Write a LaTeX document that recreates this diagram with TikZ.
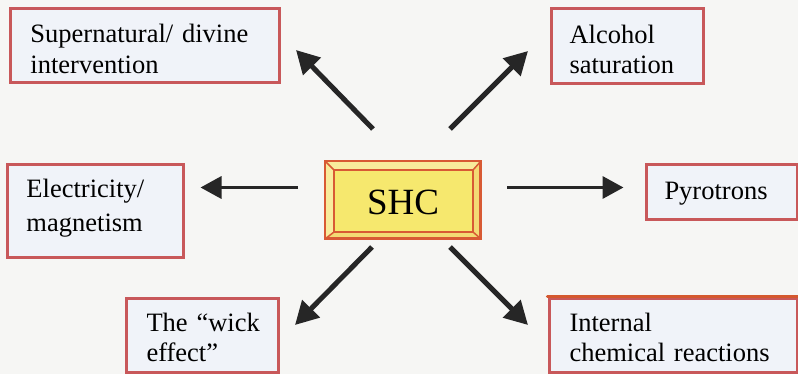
\documentclass[tikz,border=0pt]{standalone}
\usepackage{fontspec}
\setmainfont{Liberation Serif}
\usetikzlibrary{arrows.meta}
\definecolor{bgcol}{HTML}{F6F6F4}
\definecolor{boxred}{HTML}{C8585A}
\definecolor{boxfill}{HTML}{F0F3F9}
\definecolor{intop}{HTML}{D4582E}
\definecolor{shcline}{HTML}{D85A34}
\definecolor{shcface}{HTML}{F6E86E}
\definecolor{shcbevel}{HTML}{F3DA74}
\definecolor{shclight}{HTML}{F8EC9C}
\definecolor{arrcol}{HTML}{262626}
\begin{document}
\begin{tikzpicture}[x=1pt,y=-1pt,
  txtbox/.style={draw=boxred, line width=3pt, fill=boxfill, anchor=north west,
    inner ysep=0pt, align=left, text=black},
  bigarrow/.style={draw=arrcol, line width=5pt, -{Triangle[length=23pt,width=24pt]}},
  hzarrow/.style={draw=arrcol, line width=3.5pt, -{Triangle[length=21pt,width=22pt]}}]
\fill[bgcol] (0,0) rectangle (798,374);
\useasboundingbox (0,0) rectangle (798,374);

% outer boxes
\node[txtbox, inner xsep=20.5pt, text width=228pt, font=\fontsize{26.5}{31}\selectfont]
  (super) at (8.5,7.5)
  {\rule{0pt}{33.5pt}Supernatural/~divine\\intervention\rule[-9.5pt]{0pt}{9.5pt}};
\node[txtbox, inner xsep=18.5pt, text width=115pt, font=\fontsize{26.5}{30}\selectfont]
  (alco) at (549.5,7.5)
  {\rule{0pt}{34.2pt}Alcohol\\saturation\rule[-10.8pt]{0pt}{10.8pt}};
\node[txtbox, inner xsep=19.5pt, text width=137pt, font=\fontsize{26.5}{34}\selectfont]
  (elec) at (5.5,163.5)
  {\rule{0pt}{32.2pt}Electricity/\\magnetism\rule[-26.5pt]{0pt}{26.5pt}};
\node[txtbox, inner xsep=18.5pt, text width=114pt, font=\fontsize{26.5}{30}\selectfont]
  (pyro) at (644.5,163.5)
  {\rule{0pt}{34.5pt}Pyrotrons\rule[-20.5pt]{0pt}{20.5pt}};
\node[txtbox, inner xsep=20.5pt, text width=111pt, font=\fontsize{26.5}{30}\selectfont]
  (wick) at (124.5,296.5)
  {\rule{0pt}{33.5pt}The~“wick\\effect”\rule[-10.5pt]{0pt}{10.5pt}};
\node[txtbox, inner xsep=20.5pt, text width=207pt, font=\fontsize{26.5}{30}\selectfont]
  (intern) at (547.5,296.5)
  {\rule{0pt}{33.5pt}Internal\\chemical~reactions\rule[-10.5pt]{0pt}{10.5pt}};
\draw[intop, line width=3.5pt, line cap=round] (intern.north west) -- (intern.north east);

% central bevelled box
\node[draw=shcline, line width=2pt, fill=shcbevel, minimum width=154pt, minimum height=76pt,
  inner sep=0pt, font=\fontsize{37}{40}\selectfont] (shc) at (403,200) {};
\coordinate (inw) at ([shift={(9,9)}]shc.north west);
\coordinate (ine) at ([shift={(-8,9)}]shc.north east);
\coordinate (ise) at ([shift={(-8,-7)}]shc.south east);
\coordinate (isw) at ([shift={(9,-7)}]shc.south west);
\fill[shclight] (shc.north west) -- (shc.north east) -- (ine) -- (inw) -- cycle;
\fill[shclight] (shc.north west) -- (inw) -- (isw) -- (shc.south west) -- cycle;
\draw[shcline, line width=2pt, fill=shcface] (inw) rectangle (ise);
\draw[shcline, line width=1.5pt] (shc.north west) -- (inw) (shc.north east) -- (ine)
  (shc.south east) -- (ise) (shc.south west) -- (isw);
\draw[shcline, line width=2pt] (shc.north west) rectangle (shc.south east);
\node[font=\fontsize{37}{40}\selectfont, inner sep=0pt, anchor=base] (shct) at (403,215) {SHC};

% arrow end points
\coordinate (a1s) at (373,129); \coordinate (a1e) at (296,50);
\coordinate (a2s) at (450,129); \coordinate (a2e) at (528,51);
\coordinate (a3s) at (298,187.5); \coordinate (a3e) at (200.5,187.5);
\coordinate (a4s) at (507,187.5); \coordinate (a4e) at (623.5,187.5);
\coordinate (a5s) at (372,247); \coordinate (a5e) at (295,325);
\coordinate (a6s) at (450,247); \coordinate (a6e) at (528,325);

\draw[bigarrow] (a1s) -- (a1e);
\draw[bigarrow] (a2s) -- (a2e);
\draw[hzarrow] (a3s) -- (a3e);
\draw[hzarrow] (a4s) -- (a4e);
\draw[bigarrow] (a5s) -- (a5e);
\draw[bigarrow] (a6s) -- (a6e);
\end{tikzpicture}
\end{document}
